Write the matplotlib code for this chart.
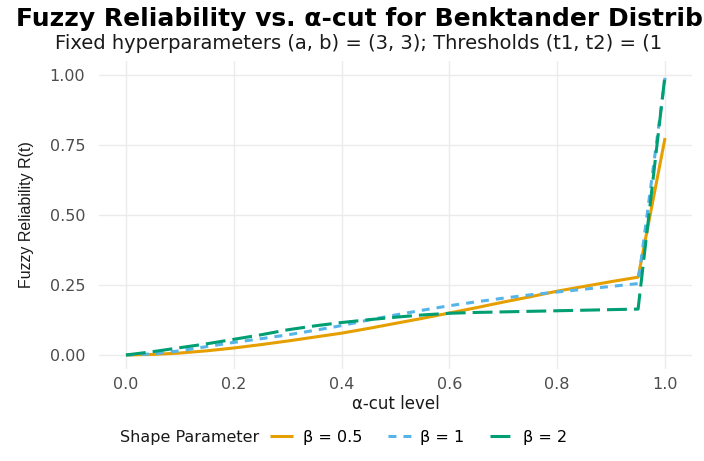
import matplotlib
matplotlib.use('Agg')
import matplotlib.pyplot as plt

# alpha-cut grid and fuzzy reliability
alpha = [0.00, 0.05, 0.10, 0.15, 0.20, 0.25, 0.30, 0.35, 0.40, 0.45, 0.50,
         0.55, 0.60, 0.65, 0.70, 0.75, 0.80, 0.85, 0.90, 0.95, 1.00]
rel_b05 = [0.000, 0.002, 0.007, 0.015, 0.025, 0.037, 0.050, 0.064, 0.078, 0.095, 0.113,
           0.131, 0.150, 0.169, 0.189, 0.208, 0.228, 0.245, 0.262, 0.278, 0.775]
rel_b1 = [0.000, 0.004, 0.015, 0.030, 0.045, 0.058, 0.072, 0.088, 0.105, 0.125, 0.143,
          0.160, 0.176, 0.190, 0.203, 0.215, 0.225, 0.235, 0.245, 0.255, 0.990]
rel_b2 = [0.000, 0.012, 0.026, 0.040, 0.056, 0.072, 0.090, 0.104, 0.116, 0.126, 0.135,
          0.143, 0.149, 0.152, 0.154, 0.156, 0.158, 0.160, 0.162, 0.164, 1.000]

labels = ['β = 0.5', 'β = 1', 'β = 2']
colors = ['#E69F00', '#56B4E9', '#009E73']
xticks = [0.0, 0.2, 0.4, 0.6, 0.8, 1.0]
yticks = [0.00, 0.25, 0.50, 0.75, 1.00]

W, H = 704, 461
plt.rcParams['font.family'] = ['DejaVu Sans']

fig = plt.figure(figsize=(W / 100, H / 100), dpi=100)
ax = fig.add_axes([99 / W, 1 - 369 / H, (692 - 99) / W, (369 - 61) / H])

lw = 2.2
l1, = ax.plot(alpha, rel_b05, color=colors[0], lw=lw, label=labels[0],
              solid_capstyle='butt')
l2, = ax.plot(alpha, rel_b1, color=colors[1], lw=lw, label=labels[1],
              dashes=(2.6, 2.3), dash_capstyle='butt')
l3, = ax.plot(alpha, rel_b2, color=colors[2], lw=lw, label=labels[2],
              dashes=(6.5, 2.3), dash_capstyle='butt')

ax.set_xlim(-0.05, 1.05)
ax.set_ylim(-0.05, 1.05)
ax.set_xticks(xticks)
ax.set_xticklabels(['%.1f' % v for v in xticks])
ax.set_yticks(yticks)
ax.set_yticklabels(['%.2f' % v for v in yticks])
ax.grid(True, color='#EBEBEB', lw=1.0)
ax.set_axisbelow(True)
for s in ax.spines.values():
    s.set_visible(False)
ax.tick_params(axis='both', length=0, labelsize=11.5, colors='#4D4D4D')
ax.tick_params(axis='y', pad=10)
ax.tick_params(axis='x', pad=6)

ax.set_xlabel('α-cut level', fontsize=12, color='#1A1A1A', labelpad=2)
ax.set_ylabel('Fuzzy Reliability R(t)', fontsize=11.5, color='#1A1A1A',
              family='Liberation Sans', labelpad=11)

fig.text(16 / W, 1 - 26 / H, 'Fuzzy Reliability vs. α-cut for Benktander Distrib',
         fontsize=18, fontweight='bold', ha='left', va='baseline', color='black')
fig.text(55 / W, 1 - 49 / H,
         'Fixed hyperparameters (a, b) = (3, 3); Thresholds (t1, t2) = (1',
         fontsize=14, ha='left', va='baseline', color='#1A1A1A')

fig.text(120 / W, 1 - 437 / H, 'Shape Parameter', fontsize=11.5,
         ha='left', va='center', color='#1A1A1A')
fig.legend(handles=[l1, l2, l3], labels=labels, loc='center left',
           bbox_to_anchor=(270 / W, 1 - 437 / H), ncol=3, frameon=False,
           fontsize=11.5, handlelength=1.45, handletextpad=0.6,
           columnspacing=1.6, borderaxespad=0, borderpad=0)

fig.savefig('out.png', dpi=100)
